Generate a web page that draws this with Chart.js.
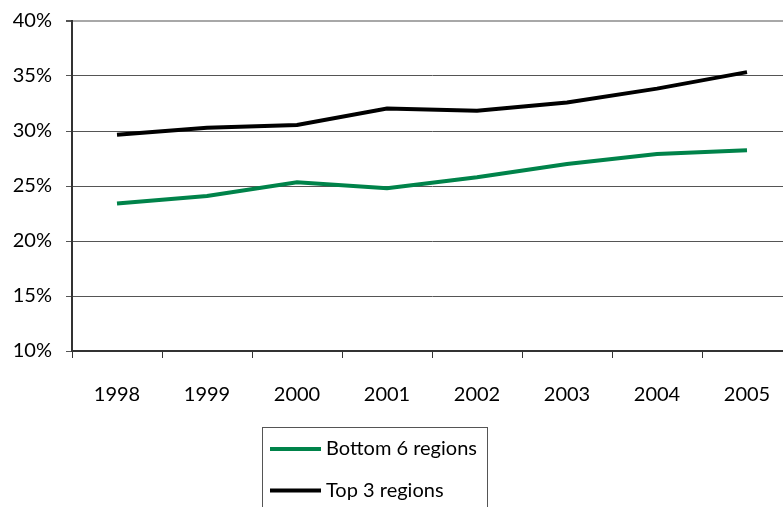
<!DOCTYPE html>
<html>
<head>
<meta charset="utf-8">
<script src="https://cdn.jsdelivr.net/npm/chart.js@4/dist/chart.umd.min.js"></script>
<style>
html,body{margin:0;padding:0;background:#fff;overflow:hidden;}
#wrap{position:relative;width:792px;height:507px;}
</style>
</head>
<body>
<div id="wrap"><canvas id="c" width="792" height="507"></canvas></div>
<script>
const years = ['1998','1999','2000','2001','2002','2003','2004','2005'];
const bottom6 = [23.4, 24.1, 25.35, 24.8, 25.8, 27.0, 27.9, 28.25];
const top3 = [29.65, 30.3, 30.55, 32.05, 31.85, 32.6, 33.85, 35.35];
const seriesLabels = ['Bottom 6 regions', 'Top 3 regions'];
const seriesColors = ['#00834A', '#000000'];

const FONT = 'Lato, "Open Sans", sans-serif';

const boxLegend = {
  id: 'boxLegend',
  afterDraw(chart) {
    const ctx = chart.ctx;
    ctx.save();
    ctx.strokeStyle = '#555';
    ctx.lineWidth = 1;
    ctx.strokeRect(262.5, 427.5, 225, 90);
    ctx.font = '20px ' + FONT;
    ctx.textBaseline = 'middle';
    ctx.textAlign = 'left';
    chart.data.datasets.forEach((ds, i) => {
      const y = 449 + i * 41.5;
      ctx.strokeStyle = ds.borderColor;
      ctx.lineWidth = 4;
      ctx.beginPath();
      ctx.moveTo(270, y);
      ctx.lineTo(321, y);
      ctx.stroke();
      ctx.fillStyle = '#000';
      ctx.fillText(ds.label, 326, y);
    });
    ctx.restore();
  }
};

new Chart(document.getElementById('c'), {
  type: 'line',
  data: {
    labels: years,
    datasets: [
      { label: seriesLabels[0], data: bottom6, borderColor: seriesColors[0], backgroundColor: seriesColors[0], borderWidth: 4, pointRadius: 0, tension: 0, fill: false },
      { label: seriesLabels[1], data: top3, borderColor: seriesColors[1], backgroundColor: seriesColors[1], borderWidth: 4, pointRadius: 0, tension: 0, fill: false }
    ]
  },
  options: {
    responsive: false,
    animation: false,
    layout: { padding: { top: 21, right: 0, left: 0, bottom: 0 }, autoPadding: false },
    plugins: { legend: { display: false }, tooltip: { enabled: false } },
    scales: {
      x: {
        offset: true,
        grid: { offset: true, drawOnChartArea: false, drawTicks: true, tickLength: 7, color: '#333', lineWidth: 1 },
        border: { display: true, color: '#333', width: 2 },
        ticks: { color: '#000', font: { family: FONT, size: 20 }, padding: 25, maxRotation: 0 },
        afterFit(s) { s.height = 156; s.paddingLeft = 0; s.paddingRight = 0; }
      },
      y: {
        min: 10, max: 40,
        ticks: { stepSize: 5, color: '#000', font: { family: FONT, size: 20 }, padding: 14, callback: v => v + '%' },
        grid: {
          color: c => (c.tick && c.tick.value === 40) ? '#a8a8a8' : '#555',
          lineWidth: c => (c.tick && c.tick.value === 40) ? 2 : 1,
          tickLength: 6, tickColor: '#555'
        },
        border: { display: true, color: '#333', width: 2 },
        afterFit(s) { s.width = 72; s.paddingTop = 0; s.paddingBottom = 0; }
      }
    }
  },
  plugins: [boxLegend]
});
</script>
</body>
</html>
